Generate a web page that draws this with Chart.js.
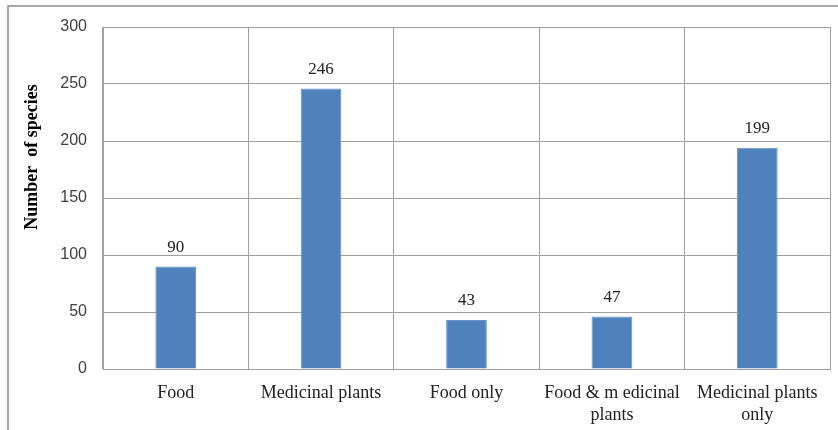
<!DOCTYPE html>
<html>
<head>
<meta charset="utf-8">
<script src="https://cdn.jsdelivr.net/npm/chart.js@4"></script>
<style>
  html, body { margin: 0; padding: 0; background: #fff; }
  #wrap { position: relative; width: 838px; height: 430px; }
</style>
</head>
<body>
<div id="wrap"><canvas id="chart" width="838" height="430"></canvas></div>
<script>
const categories = ['Food', 'Medicinal plants', 'Food only', ['Food & m edicinal', 'plants'], ['Medicinal plants', 'only']];
const barValues = [90, 246, 43, 46, 194];
const valueLabels = ['90', '246', '43', '47', '199'];
const yTicks = [0, 50, 100, 150, 200, 250, 300];

const gridColor = '#a0a0a0';

// outer frame and rotated y title, drawn like in the original sheet
const framePlugin = {
    id: 'frame',
    beforeDraw(chart) {
        const ctx = chart.ctx;
        ctx.save();
        ctx.strokeStyle = '#8c8c8c';
        ctx.lineWidth = 1.5;
        ctx.beginPath();
        ctx.moveTo(8, 430);
        ctx.lineTo(8, 6);
        ctx.lineTo(838, 6);
        ctx.stroke();
        ctx.restore();
    },
    afterDraw(chart) {
        const ctx = chart.ctx;
        ctx.save();
        ctx.translate(32, 157);
        ctx.rotate(-Math.PI / 2);
        ctx.font = 'bold 18px "Liberation Serif"';
        ctx.fillStyle = '#000';
        ctx.textAlign = 'center';
        ctx.textBaseline = 'middle';
        ctx.fillText('Number  of species', 0, 0);
        ctx.restore();
    }
};

const valueLabelPlugin = {
    id: 'valueLabels',
    afterDatasetsDraw(chart) {
        const ctx = chart.ctx;
        const meta = chart.getDatasetMeta(0);
        ctx.save();
        ctx.font = '17px "Liberation Serif"';
        ctx.fillStyle = '#222';
        ctx.textAlign = 'center';
        ctx.textBaseline = 'middle';
        meta.data.forEach(function(bar, i) {
            ctx.fillText(valueLabels[i], bar.x, bar.y - 19);
        });
        ctx.restore();
    }
};

new Chart(document.getElementById('chart'), {
    type: 'bar',
    data: {
        labels: categories,
        datasets: [{
            data: barValues,
            backgroundColor: '#4f81bd',
            borderColor: '#6a96cc',
            borderWidth: 1,
            categoryPercentage: 1,
            barPercentage: 0.28
        }]
    },
    options: {
        responsive: false,
        animation: false,
        layout: { padding: { top: 27, right: 8, left: 0, bottom: 0 } },
        plugins: {
            legend: { display: false },
            tooltip: { enabled: false }
        },
        scales: {
            x: {
                grid: { color: gridColor, lineWidth: 1, drawTicks: false, offset: true },
                border: { color: gridColor, width: 1 },
                ticks: {
                    color: '#222',
                    font: { family: '"Liberation Serif"', size: 18, lineHeight: 1.25 },
                    padding: 13,
                    maxRotation: 0,
                    autoSkip: false
                },
                afterFit(scale) { scale.height = 61; }
            },
            y: {
                min: 0,
                max: 300,
                afterBuildTicks(scale) { scale.ticks = yTicks.map(v => ({ value: v })); },
                grid: { color: gridColor, lineWidth: 1, drawTicks: false },
                border: { color: gridColor, width: 1 },
                ticks: {
                    color: '#404040',
                    font: { family: '"Liberation Sans"', size: 16 },
                    padding: 16
                },
                afterFit(scale) { scale.width = 103; }
            }
        }
    },
    plugins: [framePlugin, valueLabelPlugin]
});
</script>
</body>
</html>
